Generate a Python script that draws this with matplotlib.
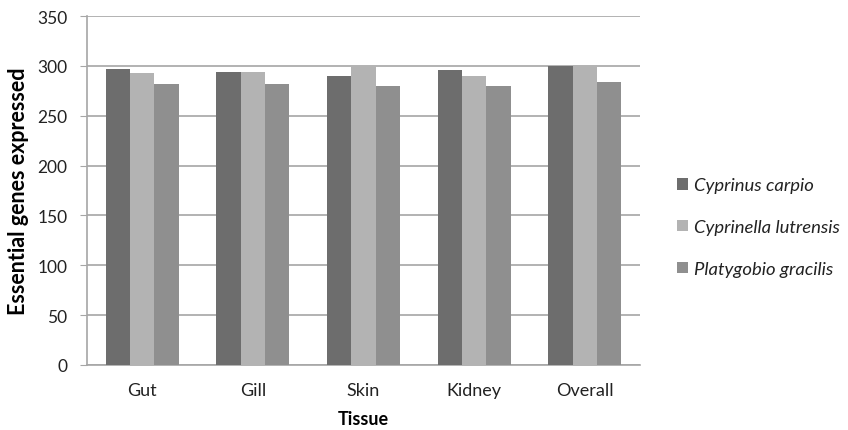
import numpy as np
import matplotlib.pyplot as plt

plt.rcParams['font.family'] = ['Lato', 'DejaVu Sans']

tissues = ['Gut', 'Gill', 'Skin', 'Kidney', 'Overall']
species = ['Cyprinus carpio', 'Cyprinella lutrensis', 'Platygobio gracilis']
carpio = [297, 294, 290, 296, 300]
lutrensis = [293, 294, 300, 290, 300]
gracilis = [282, 282, 280, 280, 284]
colors = ['#6d6d6d', '#b3b3b3', '#8f8f8f']

fig = plt.figure(figsize=(8.48, 4.31), dpi=100)
ax = fig.add_axes([87 / 848, 65 / 431, 553 / 848, 349 / 431])

x = np.arange(len(tissues))
w = 0.22
for i, (vals, c, name) in enumerate(zip([carpio, lutrensis, gracilis], colors, species)):
  ax.bar(x + (i - 1) * w, vals, width=w, color=c, label=name, zorder=3)

ax.set_xlim(-0.5, len(tissues) - 0.5)
ax.set_ylim(0, 350)
ax.set_yticks(np.arange(0, 351, 50))
ax.yaxis.grid(True, color='#a6a6a6', linewidth=1.2, zorder=0)
ax.set_xticks(x)
ax.set_xticklabels(tissues, fontsize=13, color='#222222')
ax.tick_params(axis='x', length=0, pad=12)
ax.tick_params(axis='y', length=5, color='#a6a6a6', labelsize=12.5, labelcolor='#222222', pad=9)
for s in ['top', 'right']:
  ax.spines[s].set_visible(False)
for s in ['left', 'bottom']:
  ax.spines[s].set_color('#a6a6a6')
  ax.spines[s].set_linewidth(1.2)

ax.set_ylabel('Essential genes expressed', fontsize=15.5, fontweight='bold', labelpad=6)
ax.set_xlabel('Tissue', fontsize=13, fontweight='bold', labelpad=9)

leg = ax.legend(loc='center left', bbox_to_anchor=(1.043, 0.395), frameon=False,
                prop={'style': 'italic', 'size': 13.3}, handlelength=0.6, handleheight=0.6,
                labelspacing=1.4, handletextpad=0.35, borderpad=0.2)
for t in leg.get_texts():
  t.set_color('#222222')

fig.savefig('out.png', dpi=100)
